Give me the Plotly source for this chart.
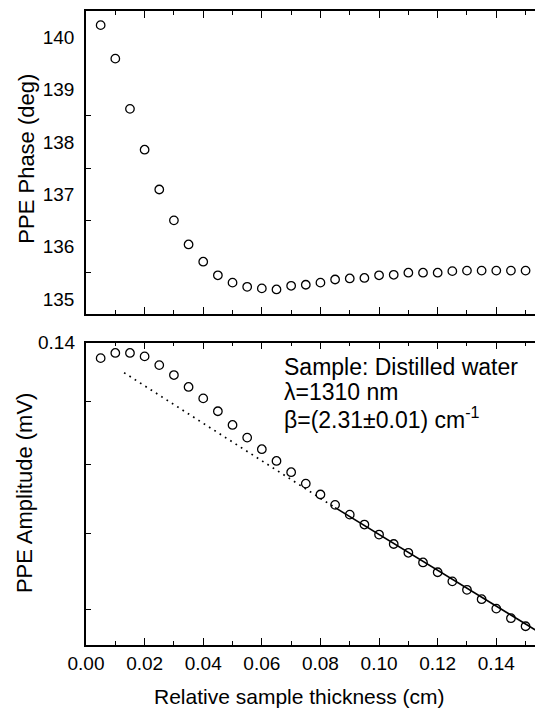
import math
import plotly.graph_objects as go

# ---------------- data ----------------
thickness = [0.005, 0.010, 0.015, 0.020, 0.025, 0.030, 0.035, 0.040, 0.045, 0.050,
             0.055, 0.060, 0.065, 0.070, 0.075, 0.080, 0.085, 0.090, 0.095, 0.100,
             0.105, 0.110, 0.115, 0.120, 0.125, 0.130, 0.135, 0.140, 0.145, 0.150]
phase = [140.23, 139.59, 138.63, 137.85, 137.09, 136.50, 136.04, 135.71, 135.45, 135.31,
         135.23, 135.20, 135.18, 135.25, 135.27, 135.31, 135.37, 135.39, 135.40, 135.45,
         135.46, 135.50, 135.50, 135.50, 135.53, 135.54, 135.54, 135.54, 135.54, 135.54]
amplitude = [0.1373, 0.1382, 0.1382, 0.1376, 0.1361, 0.1344, 0.1324, 0.1305, 0.1284, 0.1262,
             0.1242, 0.1224, 0.1206, 0.1189, 0.1172, 0.1156, 0.1141, 0.1127, 0.1113, 0.1099,
             0.1086, 0.1074, 0.1061, 0.1048, 0.1036, 0.1025, 0.1013, 0.1001, 0.0989, 0.0979]
fit_dot_x = [0.013, 0.085]
fit_dot_y = [0.1348, 0.1137]
fit_solid_x = [0.085, 0.1549]
fit_solid_y = [0.1137, 0.0971]

x_major = [0.00, 0.02, 0.04, 0.06, 0.08, 0.10, 0.12, 0.14]
x_minor = [0.01, 0.03, 0.05, 0.07, 0.09, 0.11, 0.13, 0.15]
x_labels = ["0.00", "0.02", "0.04", "0.06", "0.08", "0.10", "0.12", "0.14"]
phase_labels_at = [135, 136, 137, 138, 139, 140]
phase_tick_at = [135.5, 136.5, 137.5, 138.5]
amp_ticks = [0.10, 0.11, 0.12, 0.13, 0.14]
amp_label_value = 0.14
amp_label_text = "0.14"

FONT = "Liberation Sans, Arial, sans-serif"
OFF = 8  # page body margin offset
W, H = 543 - OFF, 710 - OFF
ML, MR, MT, MB = 86 - OFF, 2, 9 - OFF, 65
PW, PH = W - ML - MR, H - MT - MB


def px(x):
    return (x - OFF - ML) / PW


def py(y):
    return (H - MB - (y - OFF)) / PH


marker = dict(symbol="circle-open", size=8.5, color="black", line=dict(width=1.3, color="black"))

fig = go.Figure()
fig.add_trace(go.Scatter(x=thickness, y=phase, mode="markers", marker=marker,
                         xaxis="x", yaxis="y", showlegend=False))
fig.add_trace(go.Scatter(x=fit_dot_x, y=fit_dot_y, mode="lines",
                         line=dict(color="black", width=1.7, dash="1.7px,4.6px"),
                         xaxis="x2", yaxis="y2", showlegend=False))
fig.add_trace(go.Scatter(x=fit_solid_x, y=fit_solid_y, mode="lines",
                         line=dict(color="black", width=1.6),
                         xaxis="x2", yaxis="y2", showlegend=False))
fig.add_trace(go.Scatter(x=thickness, y=amplitude, mode="markers", marker=marker,
                         xaxis="x2", yaxis="y2", showlegend=False))

axis_common = dict(showline=True, linecolor="black", linewidth=1.6, showgrid=False,
                   zeroline=False, ticks="inside", tickcolor="black", tickwidth=1.3,
                   tickfont=dict(family=FONT, size=19, color="black"))

fig.update_layout(
    width=W, height=H,
    margin=dict(l=ML, r=MR, t=MT, b=MB),
    paper_bgcolor="white", plot_bgcolor="white",
    font=dict(family=FONT, color="black"),
    xaxis=dict(axis_common, domain=[0, px(537.5)], range=[0, (537.5 - 86) / 2937],
               anchor="y", tickvals=x_major, ticklen=7, showticklabels=False,
               mirror="ticks",
               minor=dict(tickvals=x_minor, ticklen=4, ticks="inside", tickcolor="black",
                          tickwidth=1.3, showgrid=False)),
    yaxis=dict(axis_common, domain=[py(313), 1], range=[134.71, 140.50], anchor="x",
               tickvals=phase_labels_at, ticktext=[str(v) for v in phase_labels_at],
               ticklen=0, mirror=True, ticklabelstandoff=6,
               minor=dict(tickvals=phase_tick_at, ticklen=5, ticks="inside", tickcolor="black",
                          tickwidth=1.3, showgrid=False)),
    xaxis2=dict(axis_common, domain=[0, 1], range=[0, PW / 2937], anchor="y2",
                tickvals=x_major, ticktext=x_labels, ticklen=7, mirror="ticks",
                minor=dict(tickvals=x_minor, ticklen=4, ticks="inside", tickcolor="black",
                           tickwidth=1.3, showgrid=False)),
    yaxis2=dict(axis_common, domain=[0, py(341.7)], type="log", range=[-1.0195, -0.85385],
                anchor="x2", tickvals=amp_ticks, showticklabels=False, ticklen=5,
                mirror="ticks"),
)

fig.add_annotation(text=amp_label_text, xref="paper", yref="y2",
                   x=px(77), y=math.log10(amp_label_value), xanchor="right", yanchor="middle",
                   showarrow=False, font=dict(family=FONT, size=19, color="black"))

ann_font = dict(family=FONT, size=22, color="black")
fig.add_annotation(text="Relative sample thickness (cm)", xref="paper", yref="paper",
                   x=px(300), y=py(697), xanchor="center", yanchor="middle",
                   showarrow=False, font=dict(family=FONT, size=21, color="black"))
fig.add_annotation(text="PPE Phase (deg)", xref="paper", yref="paper",
                   x=px(26), y=py(157), xanchor="center", yanchor="middle", textangle=-90,
                   showarrow=False, font=ann_font)
fig.add_annotation(text="PPE Amplitude (mV)", xref="paper", yref="paper",
                   x=px(25), y=py(492.5), xanchor="center", yanchor="middle", textangle=-90,
                   showarrow=False, font=ann_font)
for txt, yy in [("Sample: Distilled water", 365.7),
                ("λ=1310 nm", 391.7),
                ("β=(2.31±0.01) cm<sup>-1</sup>", 417.3)]:
    fig.add_annotation(text=txt, xref="paper", yref="paper", x=px(282), y=py(yy),
                       xanchor="left", yanchor="middle", showarrow=False,
                       font=dict(family=FONT, size=23, color="black"))

fig.write_html("out.html")
